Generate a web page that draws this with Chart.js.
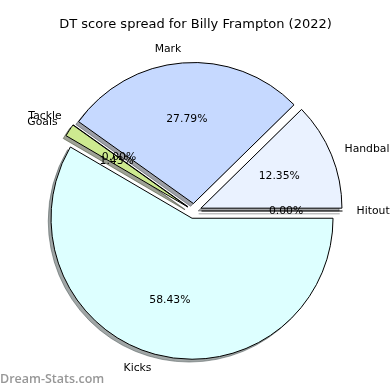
<!DOCTYPE html>
<html>
<head>
<meta charset="utf-8">
<script src="https://cdn.jsdelivr.net/npm/chart.js@4.4.1/dist/chart.umd.min.js"></script>
<style>
  html, body { margin: 0; padding: 0; background: #ffffff; }
  #wrap { width: 390px; height: 390px; position: relative; }
</style>
</head>
<body>
<div id="wrap"><canvas id="c" width="390" height="390"></canvas></div>
<script>
// Data in matplotlib counter-clockwise order starting from 3 o'clock
const categories = ['Hitout', 'Handball', 'Mark', 'Tackle', 'Goals', 'Kicks'];
const values = [0, 12.35, 27.79, 0, 1.43, 58.43];
const sliceColors = ['#f0f5ff', '#eaf2ff', '#c6d9ff', '#e8f0d8', '#cdea90', '#ddffff'];
const chartTitle = 'DT score spread for Billy Frampton (2022)';
const watermark = 'Dream-Stats.com';

// Chart.js draws clockwise, so reverse to mimic counter-clockwise layout
const cjLabels = categories.slice().reverse();
const cjValues = values.slice().reverse();
const cjColors = sliceColors.slice().reverse();
const total = values.reduce((a, b) => a + b, 0);

const EXPLODE = 7.5;
const SHADOW_DX = -2.8, SHADOW_DY = 2.8;
const FONT = '"DejaVu Sans", "Liberation Sans", sans-serif';

function hexToRgb(h) {
  const n = parseInt(h.slice(1), 16);
  return [(n >> 16) & 255, (n >> 8) & 255, n & 255];
}

const ArcEl = (Chart.registry && Chart.registry.getElement) ? Chart.registry.getElement('arc') : Chart.ArcElement;
const origDraw = ArcEl.prototype.draw;
ArcEl.prototype.draw = function (ctx) {
  const mid = (this.startAngle + this.endAngle) / 2;
  ctx.save();
  ctx.translate(Math.cos(mid) * EXPLODE, Math.sin(mid) * EXPLODE);
  if (Math.abs(this.endAngle - this.startAngle) < 1e-9) {
    ctx.beginPath();
    ctx.moveTo(this.x, this.y);
    ctx.lineTo(this.x + Math.cos(this.startAngle) * this.outerRadius, this.y + Math.sin(this.startAngle) * this.outerRadius);
    ctx.strokeStyle = '#000';
    ctx.lineWidth = 1;
    ctx.stroke();
  } else {
    origDraw.call(this, ctx);
  }
  ctx.restore();
};

const pieDeco = {
  id: 'pieDeco',
  beforeDatasetsDraw(chart) {
    const ctx = chart.ctx;
    const meta = chart.getDatasetMeta(0);
    ctx.save();
    meta.data.forEach((arc, i) => {
      const mid = (arc.startAngle + arc.endAngle) / 2;
      const cx = arc.x + Math.cos(mid) * EXPLODE + SHADOW_DX;
      const cy = arc.y + Math.sin(mid) * EXPLODE + SHADOW_DY;
      const rgb = hexToRgb(cjColors[i]).map(v => Math.round(v * 0.3));
      const col = 'rgba(' + rgb.join(',') + ',0.5)';
      ctx.beginPath();
      ctx.moveTo(cx, cy);
      if (arc.endAngle - arc.startAngle > 1e-9) {
        ctx.arc(cx, cy, arc.outerRadius, arc.startAngle, arc.endAngle);
        ctx.closePath();
        ctx.fillStyle = col;
        ctx.fill();
      } else {
        ctx.lineTo(cx + Math.cos(arc.startAngle) * arc.outerRadius, cy + Math.sin(arc.startAngle) * arc.outerRadius);
      }
      ctx.strokeStyle = col;
      ctx.lineWidth = 1;
      ctx.stroke();
    });
    ctx.restore();
  },
  afterDatasetsDraw(chart) {
    const ctx = chart.ctx;
    const meta = chart.getDatasetMeta(0);
    ctx.save();
    ctx.fillStyle = '#000';
    ctx.textBaseline = 'middle';
    meta.data.forEach((arc, i) => {
      const mid = (arc.startAngle + arc.endAngle) / 2;
      const cx = arc.x + Math.cos(mid) * EXPLODE;
      const cy = arc.y + Math.sin(mid) * EXPLODE;
      const R = arc.outerRadius;
      const c = Math.cos(mid), s = Math.sin(mid);
      ctx.font = '10.8px ' + FONT;
      ctx.textAlign = c > 0 ? 'left' : 'right';
      ctx.fillText(cjLabels[i], cx + c * R * 1.1, cy + s * R * 1.1);
      ctx.textAlign = 'center';
      const pct = (cjValues[i] / total * 100).toFixed(2) + '%';
      ctx.fillText(pct, cx + c * R * 0.6, cy + s * R * 0.6);
    });
    // title
    ctx.font = '13px ' + FONT;
    ctx.textAlign = 'center';
    ctx.fillText(chartTitle, 195.5, 25);
    // watermark
    ctx.font = '600 12.5px "Open Sans", "Noto Sans", sans-serif';
    ctx.fillStyle = '#979797';
    ctx.textAlign = 'left';
    ctx.fillText(watermark, 0, 379);
    ctx.restore();
  }
};

new Chart(document.getElementById('c'), {
  type: 'pie',
  data: {
    labels: cjLabels,
    datasets: [{
      data: cjValues,
      backgroundColor: cjColors,
      borderColor: '#000000',
      borderWidth: 1
    }]
  },
  options: {
    responsive: false,
    animation: false,
    rotation: 90,
    radius: 141,
    layout: { padding: { left: 44, right: 46, top: 61, bottom: 29 } },
    plugins: {
      legend: { display: false },
      title: { display: false },
      tooltip: { enabled: false }
    },
    events: []
  },
  plugins: [pieDeco]
});
</script>
</body>
</html>
